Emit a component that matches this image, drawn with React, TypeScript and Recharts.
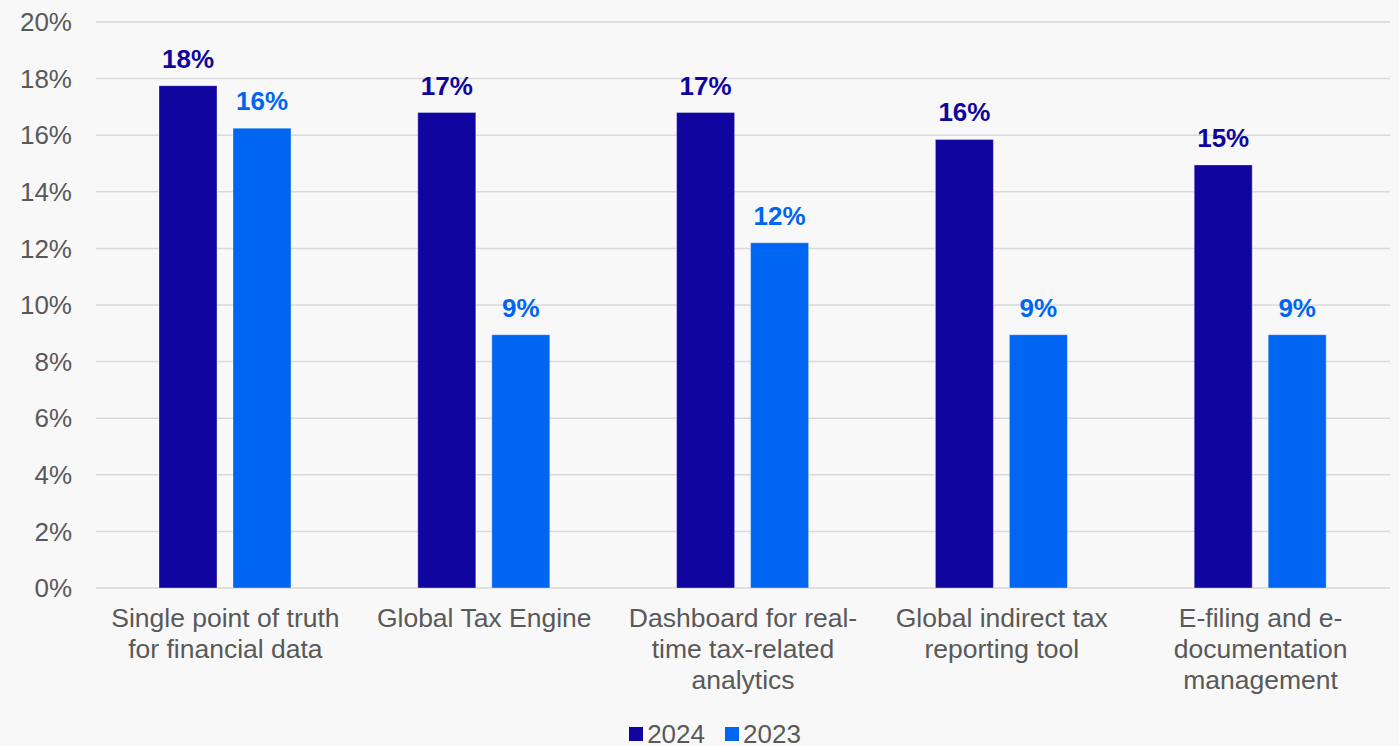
import React from 'react';
import { BarChart, Bar, XAxis, YAxis, CartesianGrid, LabelList, Legend } from 'recharts';

const categories = [
  'Single point of truth for financial data',
  'Global Tax Engine',
  'Dashboard for real-time tax-related analytics',
  'Global indirect tax reporting tool',
  'E-filing and e-documentation management',
];

// wrapped the way the original deck breaks them
const tickLines = [
  ['Single point of truth', 'for financial data'],
  ['Global Tax Engine'],
  ['Dashboard for real-', 'time tax-related', 'analytics'],
  ['Global indirect tax', 'reporting tool'],
  ['E-filing and e-', 'documentation', 'management'],
];

const values2024 = [17.75, 16.8, 16.8, 15.85, 14.95];
const values2023 = [16.25, 8.95, 12.2, 8.95, 8.95];
const yTicks = [0, 2, 4, 6, 8, 10, 12, 14, 16, 18, 20];

const C2024 = '#10069f';
const C2023 = '#0066f2';
const TEXT = '#595959';
const FONT = 'Arial, "Liberation Sans", sans-serif';

const data = categories.map((name, i) => ({
  name,
  y2024: values2024[i],
  y2023: values2023[i],
}));

const CategoryTick = (props: any) => {
  const { x, y, payload } = props;
  const lines = tickLines[payload.index] || [payload.value];
  return (
    <text x={x} y={y} textAnchor="middle" fill={TEXT} fontSize={26.5} fontFamily={FONT}>
      {lines.map((line: string, i: number) => (
        <tspan key={i} x={x} y={y + 37 + i * 31}>
          {line}
        </tspan>
      ))}
    </text>
  );
};

const LegendContent = () => (
  <div
    style={{
      display: 'flex',
      justifyContent: 'center',
      alignItems: 'center',
      height: 40,
      paddingTop: 15,
      paddingLeft: 40,
      boxSizing: 'border-box',
      fontFamily: FONT,
      fontSize: 26,
      color: TEXT,
      lineHeight: '26px',
    }}
  >
    {[
      { label: '2024', color: C2024 },
      { label: '2023', color: C2023 },
    ].map((item, i) => (
      <div key={item.label} style={{ display: 'flex', alignItems: 'center', marginLeft: i ? 20 : 0 }}>
        <span style={{ width: 14, height: 14, background: item.color, marginRight: 4, display: 'inline-block' }} />
        <span>{item.label}</span>
      </div>
    ))}
  </div>
);

const pct = (v: any) => `${Math.round(Number(v))}%`;

export default function App() {
  return (
    <div style={{ position: 'absolute', top: 0, left: 0, width: 1399, height: 746, background: '#f8f8f8' }}>
      <BarChart
        width={1399}
        height={746}
        data={data}
        margin={{ top: 22, right: 9, left: 0, bottom: 0 }}
        barCategoryGap={63}
        barGap={16}
      >
        <CartesianGrid vertical={false} stroke="#d9d9d9" strokeWidth={1.5} />
        <XAxis
          dataKey="name"
          interval={0}
          height={118}
          tickLine={false}
          axisLine={false}
          tickSize={0}
          tick={<CategoryTick />}
        />
        <YAxis
          width={96}
          domain={[0, 20]}
          ticks={yTicks}
          tickFormatter={(v) => `${v}%`}
          axisLine={false}
          tickLine={false}
          tickSize={0}
          tickMargin={24}
          tick={{ fill: TEXT, fontSize: 26, fontFamily: FONT }}
        />
        <Legend verticalAlign="bottom" height={40} content={<LegendContent />} />
        <Bar dataKey="y2024" name="2024" fill={C2024} stroke="#ffffff" strokeOpacity={0.35} isAnimationActive={false}>
          <LabelList
            dataKey="y2024"
            position="top"
            offset={18}
            formatter={pct}
            fill={C2024}
            fontSize={26}
            fontWeight="bold"
            fontFamily={FONT}
          />
        </Bar>
        <Bar dataKey="y2023" name="2023" fill={C2023} stroke="#ffffff" strokeOpacity={0.35} isAnimationActive={false}>
          <LabelList
            dataKey="y2023"
            position="top"
            offset={18}
            formatter={pct}
            fill={C2023}
            fontSize={26}
            fontWeight="bold"
            fontFamily={FONT}
          />
        </Bar>
      </BarChart>
    </div>
  );
}
